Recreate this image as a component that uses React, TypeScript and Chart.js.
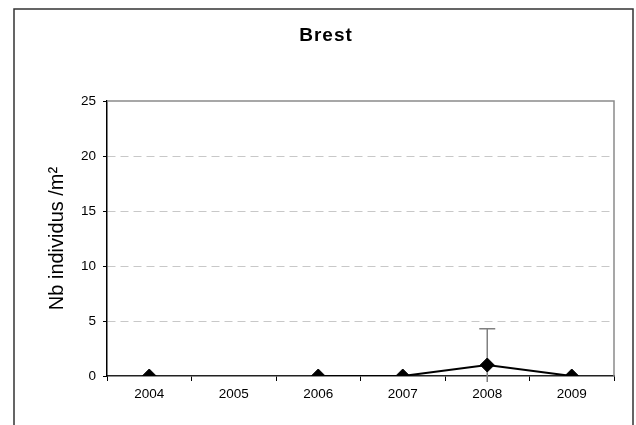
import React, { useEffect, useRef } from "react";
import { Chart, registerables } from "chart.js";

Chart.register(...registerables);

const years = ["2004", "2005", "2006", "2007", "2008", "2009"];
const meanValues: (number | null)[] = [0, null, 0, 0, 1.0, 0];
const errorPlus: (number | null)[] = [0, null, 0, 0, 3.3, 0];
const errorMinus: (number | null)[] = [0, null, 0, 0, 3.3, 0];
const yMin = 0;
const yMax = 25;
const yStep = 5;
const chartTitle = "Brest";
const yTitle = "Nb individus /m²";

const FONT = "'Liberation Sans', Arial, sans-serif";

const decorPlugin = {
  id: "decor",
  beforeDraw(chart: any) {
    const { ctx, width, height } = chart;
    ctx.save();
    ctx.fillStyle = "#ffffff";
    ctx.fillRect(0, 0, width, height);
    ctx.strokeStyle = "#333333";
    ctx.lineWidth = 1.5;
    ctx.beginPath();
    ctx.moveTo(14, height + 2);
    ctx.lineTo(14, 9);
    ctx.lineTo(633, 9);
    ctx.lineTo(633, height + 2);
    ctx.stroke();
    ctx.restore();
  },
  beforeDatasetsDraw(chart: any) {
    const { ctx, chartArea } = chart;
    const x = chart.scales.x;
    const y = chart.scales.y;
    ctx.save();
    ctx.strokeStyle = "#8a8a8a";
    ctx.lineWidth = 1.5;
    ctx.beginPath();
    ctx.moveTo(chartArea.left, chartArea.top);
    ctx.lineTo(chartArea.right, chartArea.top);
    ctx.lineTo(chartArea.right, chartArea.bottom);
    ctx.stroke();
    ctx.strokeStyle = "#808080";
    ctx.lineWidth = 1.5;
    meanValues.forEach((v, i) => {
      const ep = errorPlus[i];
      const em = errorMinus[i];
      if (v == null || ep == null || ep === 0) return;
      const px = x.getPixelForValue(i);
      const yTop = y.getPixelForValue(v + ep);
      const yLow = Math.min(y.getPixelForValue(v - (em || 0)), chartArea.bottom + 6);
      ctx.beginPath();
      ctx.moveTo(px, yLow);
      ctx.lineTo(px, yTop);
      ctx.moveTo(px - 8, yTop);
      ctx.lineTo(px + 8, yTop);
      ctx.stroke();
    });
    ctx.restore();
  },
  afterDraw(chart: any) {
    const { ctx, chartArea } = chart;
    ctx.save();
    ctx.fillStyle = "#000000";
    ctx.textAlign = "center";
    ctx.textBaseline = "middle";
    ctx.font = `bold 19px ${FONT}`;
    try {
      (ctx as any).letterSpacing = "1px";
    } catch (e) {}
    ctx.fillText(chartTitle, 326, 36);
    try {
      (ctx as any).letterSpacing = "0px";
    } catch (e) {}
    ctx.translate(57, (chartArea.top + chartArea.bottom) / 2);
    ctx.rotate(-Math.PI / 2);
    ctx.font = `20px ${FONT}`;
    ctx.fillText(yTitle, 0, 0);
    ctx.restore();
  },
};

export default function App() {
  const ref = useRef<HTMLCanvasElement | null>(null);
  useEffect(() => {
    if (!ref.current) return;
    const chart = new Chart(ref.current, {
      type: "line",
      data: {
        labels: years,
        datasets: [
          {
            data: meanValues,
            borderColor: "#000000",
            backgroundColor: "#000000",
            borderWidth: 2,
            pointStyle: "rectRot",
            pointRadius: 7,
            pointBackgroundColor: "#000000",
            pointBorderColor: "#000000",
            pointBorderWidth: 1,
            spanGaps: false,
            tension: 0,
          },
        ],
      },
      options: {
        responsive: false,
        animation: false,
        layout: { padding: { left: 0, top: 101, right: 22, bottom: 0 } },
        plugins: { legend: { display: false }, tooltip: { enabled: false }, title: { display: false } },
        scales: {
          x: {
            type: "category",
            offset: true,
            grid: {
              offset: true,
              drawOnChartArea: false,
              drawTicks: true,
              tickLength: 5,
              tickColor: "#000000",
              tickWidth: 1,
            },
            border: { color: "#222222", width: 1.5 },
            ticks: { color: "#000000", font: { family: FONT, size: 13.5 }, padding: 5, maxRotation: 0 },
            afterFit(scale: any) {
              scale.height = 49;
            },
          },
          y: {
            min: yMin,
            max: yMax,
            ticks: { stepSize: yStep, color: "#000000", font: { family: FONT, size: 13.5 }, padding: 7 },
            grid: {
              color: (c: any) =>
                c.tick && (c.tick.value === yMin || c.tick.value === yMax) ? "rgba(0,0,0,0)" : "#c8c8c8",
              lineWidth: 1,
              tickColor: "#000000",
              tickLength: 4,
              tickWidth: 1,
              tickBorderDash: [],
            },
            border: { color: "#000000", width: 1.5, dash: [8, 5] },
            afterFit(scale: any) {
              scale.width = 107;
            },
          },
        },
      } as any,
      plugins: [decorPlugin],
    });
    return () => chart.destroy();
  }, []);
  return (
    <div style={{ position: "absolute", left: 0, top: 0, width: 636, height: 425 }}>
      <canvas ref={ref} width={636} height={425} />
    </div>
  );
}
